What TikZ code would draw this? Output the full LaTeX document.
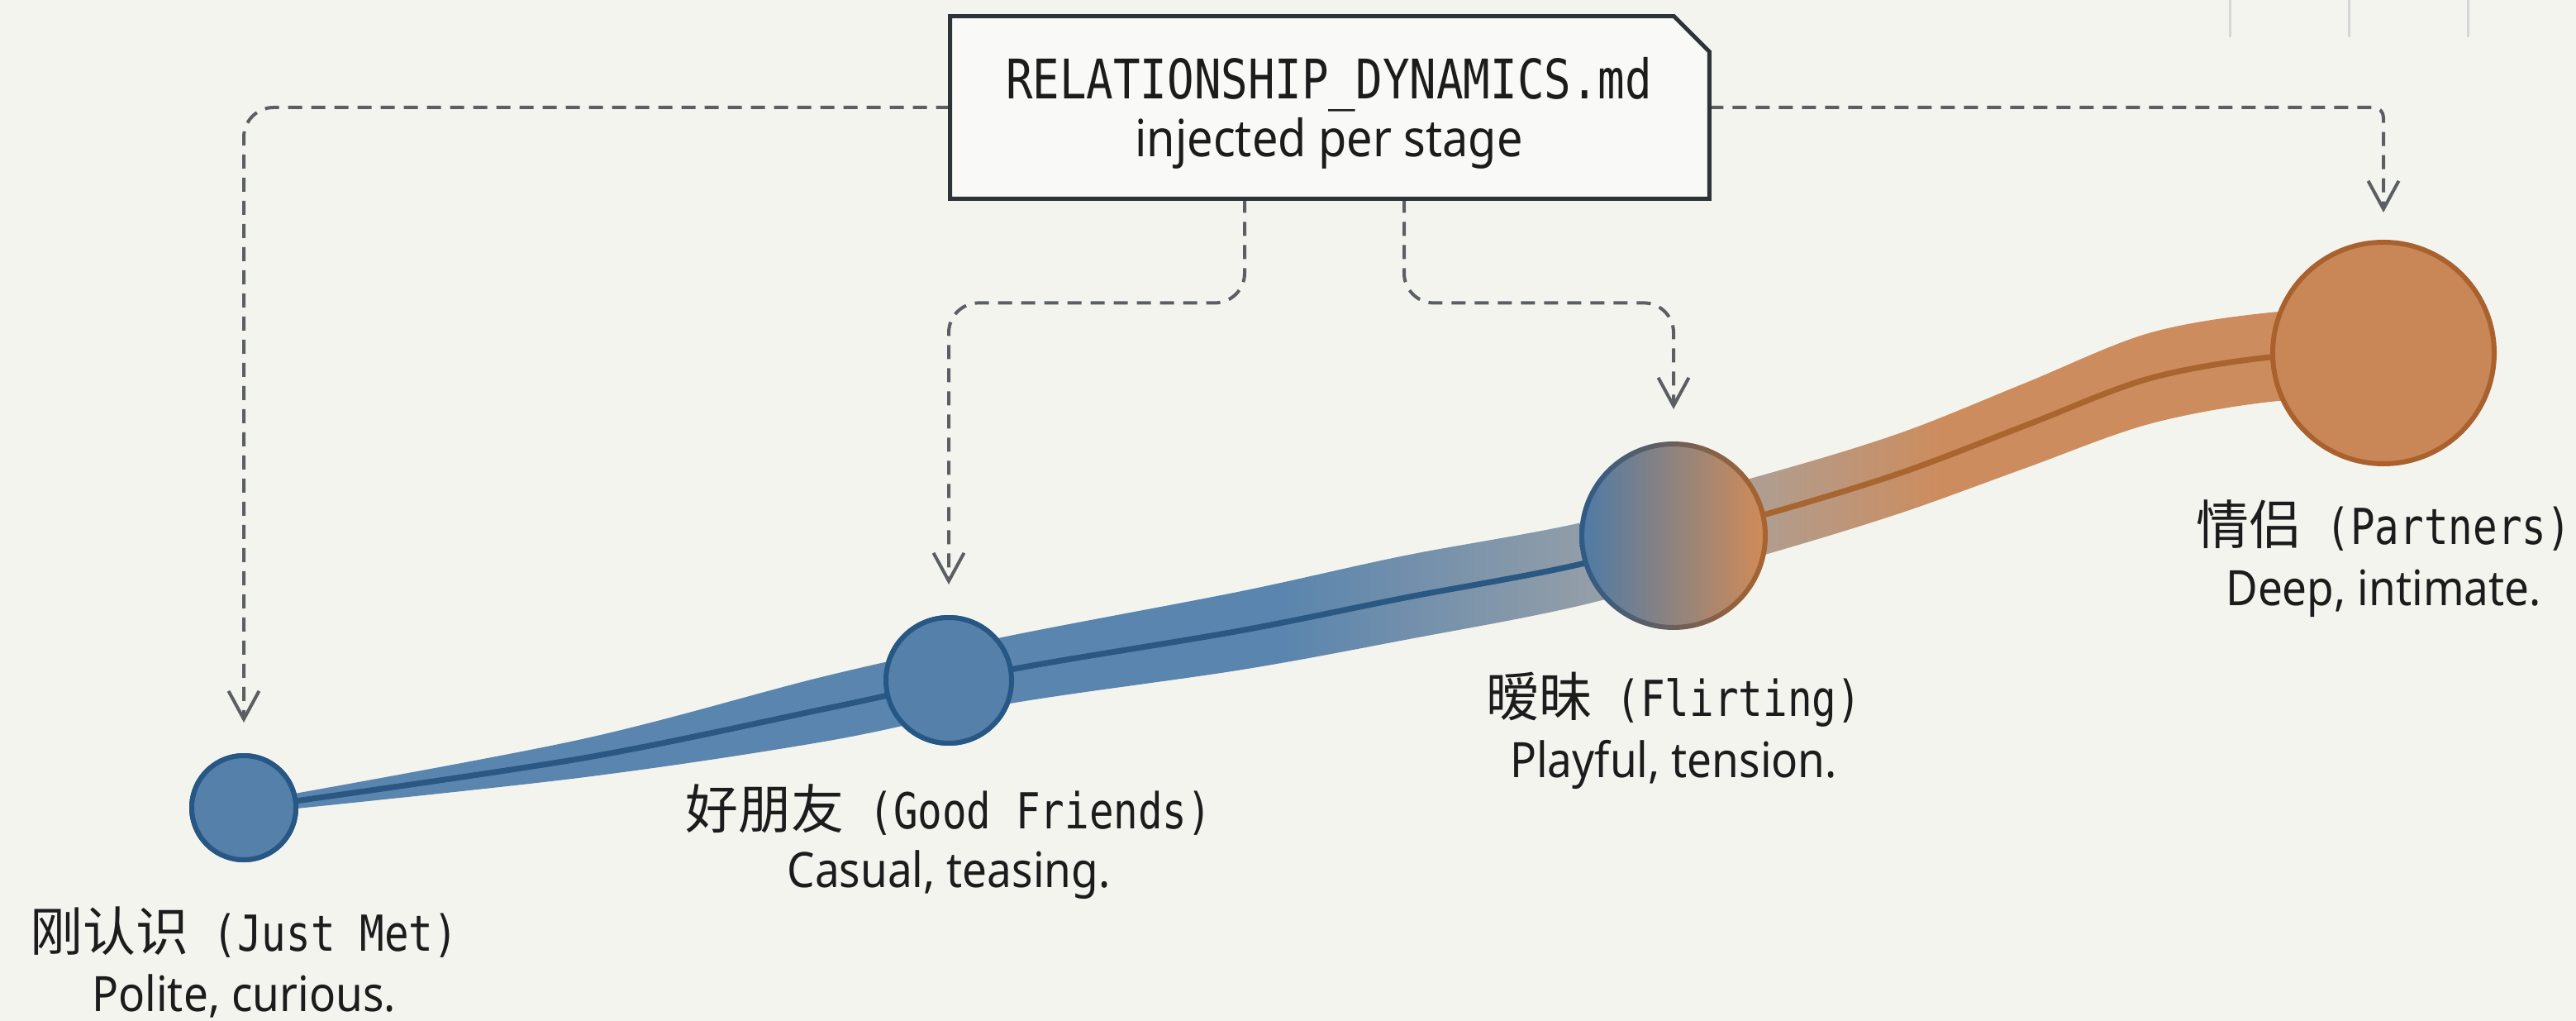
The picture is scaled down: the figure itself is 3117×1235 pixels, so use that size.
\documentclass[tikz,border=0pt]{standalone}
\usepackage{fontspec}
\setmainfont{Noto Sans}
\newfontfamily\descfont{Noto Sans}[FakeStretch=0.9]
\newfontfamily\monof{DejaVu Sans Mono}[FakeStretch=0.82]
\newfontfamily\cjk{Noto Sans CJK SC}
\usetikzlibrary{arrows.meta,calc}
\definecolor{bg}{HTML}{F4F4EF}
\definecolor{boxfill}{HTML}{F9FAF8}
\definecolor{boxline}{HTML}{2E3338}
\definecolor{ink}{HTML}{1C1C1C}
\definecolor{conngray}{HTML}{5B5F62}
\definecolor{cblue}{HTML}{5580A9}
\definecolor{cbluedark}{HTML}{275784}
\definecolor{bandblue}{HTML}{5A85AE}
\definecolor{bandmid}{HTML}{A3A5A6}
\definecolor{bandor}{HTML}{CD8C5D}
\definecolor{linebl}{HTML}{2A5882}
\definecolor{lineor}{HTML}{A8652F}
\definecolor{porange}{HTML}{C98758}
\definecolor{pordark}{HTML}{A9622E}
\definecolor{flL}{HTML}{4E7BA6}
\definecolor{flR}{HTML}{D18B57}
\definecolor{flLd}{HTML}{2D5B87}
\definecolor{flRd}{HTML}{A9642F}
\begin{document}
\begin{tikzpicture}[x=0.5pt,y=-0.5pt,
  stage/.style={circle, inner sep=0pt, line width=3pt},
  bluestage/.style={stage, draw=cbluedark, fill=cblue},
  ttl/.style={anchor=base, inner sep=0pt, text=ink, font=\fontsize{30pt}{30pt}\selectfont},
  dsc/.style={anchor=base, inner sep=0pt, text=ink, font=\descfont\fontsize{29.5pt}{30pt}\selectfont},
  conn/.style={draw=conngray, line width=2pt, dash pattern=on 8.5pt off 5.5pt,
    -{Straight Barb[length=17pt,width=18.5pt]}}]
\useasboundingbox (0,0) rectangle (3117,1235);
\fill[bg] (0,0) rectangle (3117,1235);
% faint marks top right
\foreach \xx in {2698,2842,2986} \draw[line width=1.5pt, black!16] (\xx,0) -- (\xx,45);

% stage nodes
\node[bluestage, minimum size=63pt] (jm) at (295,977) {};
\node[bluestage, minimum size=76pt] (gf) at (1148,823) {};
\node[stage, minimum size=111pt] (fl) at (2025,648) {};
\node[stage, minimum size=134pt] (pt) at (2884,427) {};

% document box node
\node[minimum width=459pt, minimum height=110pt, inner sep=0pt] (doc) at (1609,130) {};
\coordinate (s1) at ([xshift=-51.5pt]doc.south);
\coordinate (s2) at ([xshift=45pt]doc.south);

% connectors
\draw[conn, rounded corners=18pt, shorten >=18.5pt] (doc.west) -| (jm.north);
\draw[conn, rounded corners=6pt, shorten >=16.5pt] (doc.east) -| (pt.north);
\draw[conn, rounded corners=18pt, shorten >=18.5pt] (s1) -- ++(0,126) -| (gf.north);
\draw[conn, rounded corners=18pt, shorten >=19.5pt] (s2) -- ++(0,126) -| (fl.north);

% ribbon
\begin{scope}
\clip plot[smooth, tension=0.55] coordinates {(300,970) (700,895) (1000,817.5) (1222,769) (1500,715.5) (1700,672) (1914,632) (2137,573.5) (2300,523.5) (2450,463.5) (2600,403) (2747,378) (2884,373)}
  -- plot[smooth, tension=0.55] coordinates {(2884,481) (2747,486) (2600,513) (2450,566.5) (2300,620.5) (2137,670.5) (1914,732) (1700,774) (1500,810.5) (1222,851) (1000,896.5) (700,941) (300,984)} -- cycle;
\fill[bandblue] (0,0) rectangle (1550,1235);
\shade[left color=bandblue, right color=bandmid] (1549,0) rectangle (2031,1235);
\shade[left color=bandmid, right color=bandor] (2030,0) rectangle (2351,1235);
\fill[bandor] (2350,0) rectangle (3117,1235);
\end{scope}
\begin{scope}
\clip (0,0) rectangle (2025,1235);
\draw[linebl, line width=3.5pt] plot[smooth, tension=0.55] coordinates {(300,977) (700,918) (1000,857) (1222,810) (1500,763) (1700,723) (1914,682) (2137,622) (2300,572) (2450,515) (2600,458) (2747,432) (2884,427)};
\end{scope}
\begin{scope}
\clip (2025,0) rectangle (3117,1235);
\draw[lineor, line width=3.5pt] plot[smooth, tension=0.55] coordinates {(300,977) (700,918) (1000,857) (1222,810) (1500,763) (1700,723) (1914,682) (2137,622) (2300,572) (2450,515) (2600,458) (2747,432) (2884,427)};
\end{scope}

% redraw circles on top
\node[bluestage, minimum size=63pt] at (jm.center) {};
\node[bluestage, minimum size=76pt] at (gf.center) {};
\shade[left color=flL, right color=flR] (fl.center) circle (55.5pt);
\shade[left color=flLd, right color=flRd, even odd rule] (fl.center) circle (57pt) (fl.center) circle (54pt);
\node[stage, minimum size=134pt, draw=pordark, fill=porange] at (pt.center) {};

% document box
\draw[line width=2.5pt, draw=boxline, fill=boxfill, line join=miter]
  (doc.north west) -- ([xshift=-21.5pt]doc.north east) -- ([yshift=-21.5pt]doc.north east)
  -- (doc.south east) -- (doc.south west) -- cycle;
\node[anchor=base, inner sep=0pt, text=ink, font=\monof\fontsize{33pt}{33pt}\selectfont] (docA) at (1608,120) {RELATIONSHIP\textunderscore DYNAMICS.md};
\node[anchor=base, inner sep=0pt, text=ink, font=\descfont\fontsize{31pt}{31pt}\selectfont] (docB) at (1608,190) {injected per stage};

% labels
\node[ttl] (jmt) at (295,1150) {{\cjk\fontsize{32pt}{32pt}\selectfont 刚认识}{\monof\ (Just Met)}};
\node[dsc] (jmd) at (295,1223) {Polite, curious.};
\node[ttl] (gft) at (1148,1002) {{\cjk\fontsize{32pt}{32pt}\selectfont 好朋友}{\monof\ (Good Friends)}};
\node[dsc] (gfd) at (1148,1073) {Casual, teasing.};
\node[ttl] (flt) at (2025,866) {{\cjk\fontsize{32pt}{32pt}\selectfont 暧昧}{\monof\ (Flirting)}};
\node[dsc] (fld) at (2025,940) {Playful, tension.};
\node[ttl] (ptt) at (2884,658) {{\cjk\fontsize{32pt}{32pt}\selectfont 情侣}{\monof\ (Partners)}};
\node[dsc] (ptd) at (2884,732) {Deep, intimate.};
\end{tikzpicture}
\end{document}
